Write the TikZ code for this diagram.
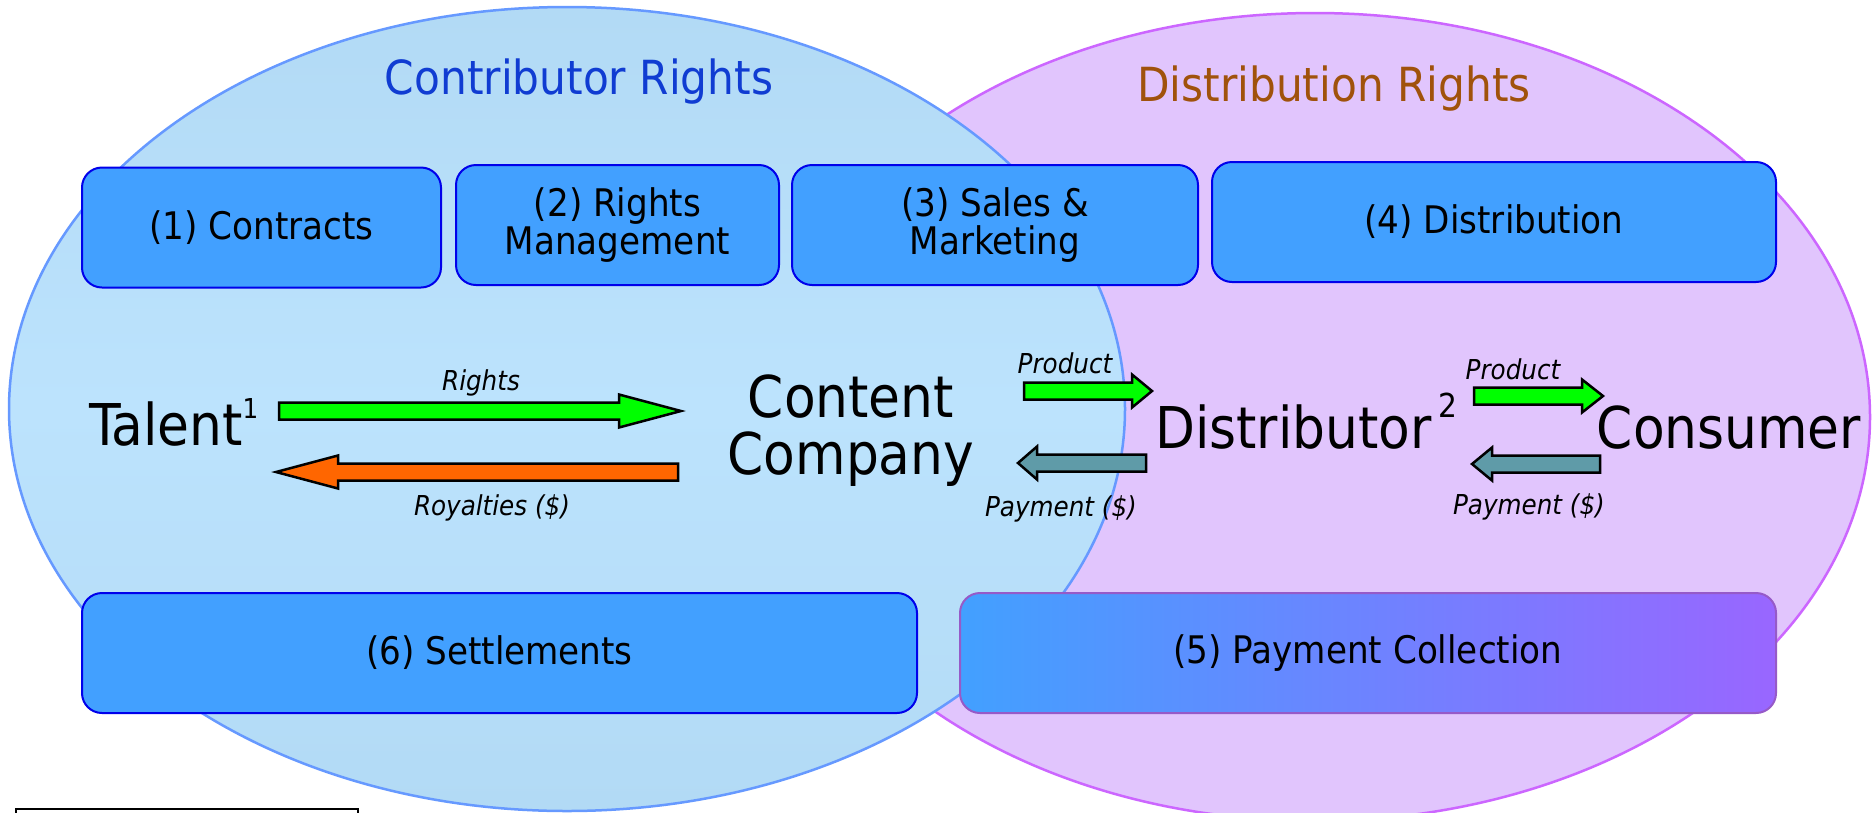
\documentclass[tikz,border=0pt]{standalone}
\usepackage{fontspec}
\setmainfont{DejaVu Sans Condensed}
\usetikzlibrary{calc}

\definecolor{boxblue}{RGB}{66,160,255}
\definecolor{boxedge}{RGB}{0,0,235}
\definecolor{boxpurple}{RGB}{153,102,255}
\definecolor{purpleedge}{RGB}{150,90,200}
\definecolor{contribfill}{RGB}{188,227,253}
\definecolor{contribtop}{RGB}{178,218,245}
\definecolor{contribedge}{RGB}{102,153,255}
\definecolor{distfill}{RGB}{225,197,253}
\definecolor{distedge}{RGB}{204,102,255}
\definecolor{contribtext}{RGB}{16,60,210}
\definecolor{disttext}{RGB}{160,82,12}
\definecolor{rightsgreen}{RGB}{0,255,0}
\definecolor{royaltyorange}{RGB}{255,102,0}
\definecolor{paymentteal}{RGB}{95,155,168}

\tikzset{
    phase/.style = {draw = boxedge, line width = 2pt, fill = boxblue, rounded corners = 20pt,
                    minimum height = 120pt, align = center, inner sep = 0pt,
                    font = \fontsize{38}{38}\selectfont},
    party/.style = {inner sep = 0pt, align = center, font = \fontsize{57.6}{57}\selectfont},
    tag/.style   = {inner sep = 0pt, font = \fontsize{27.4}{27}\selectfont\itshape},
    title/.style = {inner sep = 0pt, font = \fontsize{47}{47}\selectfont},
    flow/.style  = {draw = black, line width = 2.5pt, line join = miter}
}

% block arrow from #2 to #3, head length #4
\newcommand{\blockarrow}[4][]{%
    \draw[flow, #1] let \p1 = (#2), \p2 = (#3), \n1 = {(\x2-\x1)/abs(\x2-\x1)*#4} in
        (\x1, \y1+8.5pt) -- (\x2-\n1*1pt, \y1+8.5pt) -- (\x2-\n1*1pt, \y1+16.5pt) -- (\x2, \y2)
        -- (\x2-\n1*1pt, \y1-16.5pt) -- (\x2-\n1*1pt, \y1-8.5pt) -- (\x1, \y1-8.5pt) -- cycle;}

\begin{document}
\begin{tikzpicture}[x = 1pt, y = -1pt]

    \useasboundingbox (0, 0) rectangle (1873, 812);
    \fill[white] (0, 0) rectangle (1873, 812);

    % the two rights areas
    \draw[distedge, line width = 2.5pt, fill = distfill] (1315, 417) ellipse [x radius = 555pt, y radius = 404pt];
    \draw[contribedge, line width = 2.5pt, top color = contribtop, bottom color = contribtop, middle color = contribfill]
        (567, 409) ellipse [x radius = 558pt, y radius = 402pt];

    \node[title, text = contribtext, anchor = base] (contrib) at (579, 94) {Contributor Rights};
    \node[title, text = disttext, anchor = base] (distrights) at (1334, 101) {Distribution Rights};

    % phases
    \node[phase, minimum width = 359pt] (contracts) at (261.5, 227.5) {(1) Contracts};
    \node[phase, minimum width = 323pt] (rightsmgmt) at (617.5, 225) {(2) Rights\\Management};
    \node[phase, minimum width = 406pt] (sales) at (995, 225) {(3) Sales \&\\Marketing};
    \node[phase, minimum width = 564pt] (distribution) at (1494, 222) {(4) Distribution};
    \node[phase, minimum width = 835pt] (settlements) at (499.5, 653) {(6) Settlements};
    \node[phase, minimum width = 816pt, draw = purpleedge, left color = boxblue, right color = boxpurple]
        (collection) at (1368, 653) {(5) Payment Collection};

    % parties
    \node[party, anchor = base west] (talent) at (89, 445)
        {Talent\raisebox{27pt}{\fontsize{27.4}{27}\selectfont 1}};
    \node[party] (company) at (851, 431) {Content\\Company};
    \node[party, anchor = base west] (distributor) at (1155, 448)
        {Distributor\hspace{7pt}\raisebox{31pt}{\fontsize{33}{33}\selectfont 2}};
    \node[party, anchor = base] (consumer) at (1729, 448) {Consumer};

    % flows
    \coordinate (rights-a) at (279, 411);     \coordinate (rights-b) at (681, 411);
    \coordinate (royalty-a) at (678, 472);    \coordinate (royalty-b) at (276, 472);
    \coordinate (product1-a) at (1024, 391);  \coordinate (product1-b) at (1152, 391);
    \coordinate (payment1-a) at (1146, 463);  \coordinate (payment1-b) at (1018, 463);
    \coordinate (product2-a) at (1474, 396);  \coordinate (product2-b) at (1603, 396);
    \coordinate (payment2-a) at (1600, 464);  \coordinate (payment2-b) at (1472, 464);

    \blockarrow[fill = rightsgreen]{rights-a}{rights-b}{62}
    \blockarrow[fill = royaltyorange]{royalty-a}{royalty-b}{62}
    \blockarrow[fill = rightsgreen]{product1-a}{product1-b}{20}
    \blockarrow[fill = paymentteal]{payment1-a}{payment1-b}{19}
    \blockarrow[fill = rightsgreen]{product2-a}{product2-b}{21}
    \blockarrow[fill = paymentteal]{payment2-a}{payment2-b}{20}

    \node[tag, anchor = base] (rights-lbl) at (481, 390) {Rights};
    \node[tag, anchor = base] (royalty-lbl) at (492, 515) {Royalties (\$)};
    \node[tag, anchor = base] (product1-lbl) at (1065, 373) {Product};
    \node[tag, anchor = base] (payment1-lbl) at (1061, 516) {Payment (\$)};
    \node[tag, anchor = base] (product2-lbl) at (1513, 379) {Product};
    \node[tag, anchor = base] (payment2-lbl) at (1529, 514) {Payment (\$)};

    % footnote box, cut by the page edge
    \draw[black, line width = 2pt] (16, 830) -- (16, 809) -- (358, 809) -- (358, 830);

\end{tikzpicture}
\end{document}
